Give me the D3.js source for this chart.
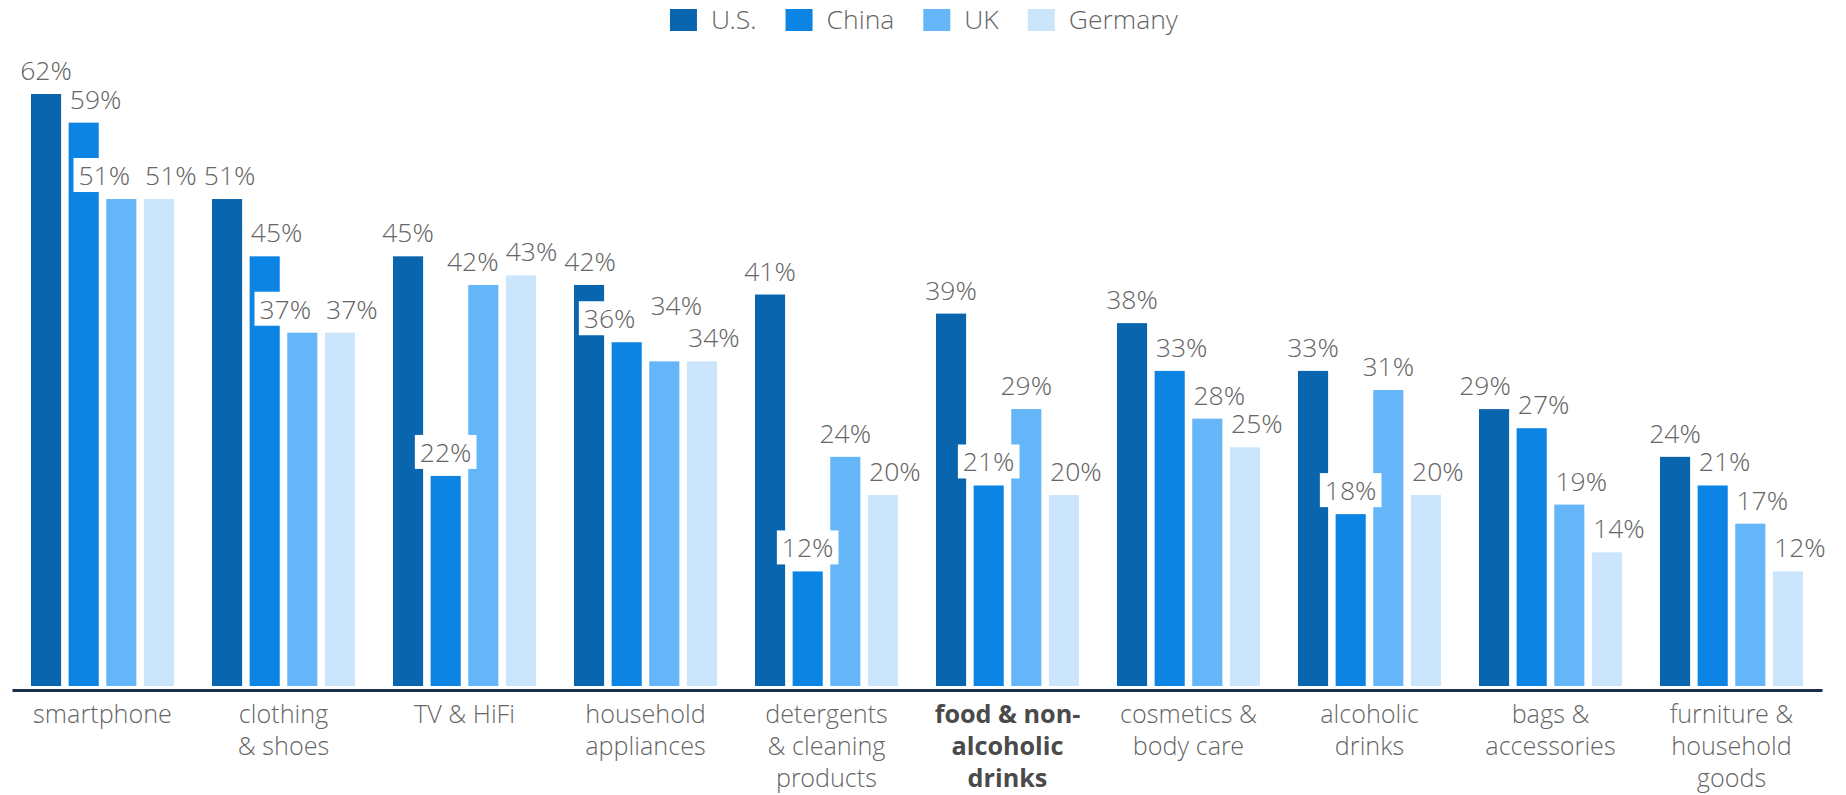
<!DOCTYPE html>
<html>
<head>
<meta charset="utf-8">
<script src="https://cdn.jsdelivr.net/npm/d3@7"></script>
<style>
  html, body { margin: 0; padding: 0; background: #fff; }
  svg { display: block; font-family: "Open Sans Light", "Open Sans", "Noto Sans", sans-serif; }
</style>
</head>
<body>
<svg id="chart" width="1846" height="795"></svg>
<script>
// Category names, already broken into the lines they are printed on
const categories = [
  ["smartphone"],
  ["clothing", "& shoes"],
  ["TV & HiFi"],
  ["household", "appliances"],
  ["detergents", "& cleaning", "products"],
  ["food & non-", "alcoholic", "drinks"],
  ["cosmetics &", "body care"],
  ["alcoholic", "drinks"],
  ["bags &", "accessories"],
  ["furniture &", "household", "goods"]
];
const highlightedCategory = 5;

const seriesNames = ["U.S.", "China", "UK", "Germany"];
const usValues      = [62, 51, 45, 42, 41, 39, 38, 33, 29, 24];
const chinaValues   = [59, 45, 22, 36, 12, 21, 33, 18, 27, 21];
const ukValues      = [51, 37, 42, 34, 24, 29, 28, 31, 19, 17];
const germanyValues = [51, 37, 43, 34, 20, 20, 25, 20, 14, 12];

const seriesColors = ["#0a65af", "#0b84e4", "#64b6f8", "#cbe6fc"];
const valueSeries = [usValues, chinaValues, ukValues, germanyValues];

const FONT = 26.5;
const CAT_FONT = 25.2;
const svg = d3.select("#chart");
const baseY = 686;

const x0 = d3.scaleBand()
  .domain(d3.range(categories.length))
  .range([12, 1822])
  .paddingInner(0.21)
  .paddingOuter(0.105);

const x1 = d3.scaleBand()
  .domain(d3.range(seriesNames.length))
  .range([0, x0.bandwidth()])
  .paddingInner(0.2);

const y = d3.scaleLinear()
  .domain([0, d3.max(usValues)])
  .range([baseY, 94]);

// ---- legend ----
const legend = svg.append("g").attr("class", "legend");
const legendItems = legend.selectAll("g").data(seriesNames).join("g");
legendItems.append("rect")
  .attr("width", 27).attr("height", 22)
  .attr("y", 9)
  .attr("fill", (d, i) => seriesColors[i]);
legendItems.append("text")
  .attr("x", 41).attr("y", 29)
  .attr("font-size", FONT).attr("font-weight", 300)
  .attr("fill", "#666")
  .text(d => d);
const ITEM_GAP = 29;
const itemW = [];
legendItems.each(function () {
  itemW.push(41 + this.querySelector("text").getComputedTextLength());
});
const legendTotal = d3.sum(itemW) + ITEM_GAP * (itemW.length - 1);
let cursor = 924 - legendTotal / 2;
legendItems.attr("transform", (d, i) => {
  const t = `translate(${cursor},0)`;
  cursor += itemW[i] + ITEM_GAP;
  return t;
});

// ---- bars ----
const bars = [];
categories.forEach((c, g) => {
  valueSeries.forEach((vals, s) => {
    bars.push({ g, s, v: vals[g] });
  });
});

svg.append("g").attr("class", "bars")
  .selectAll("rect").data(bars).join("rect")
  .attr("x", d => x0(d.g) + x1(d.s))
  .attr("y", d => y(d.v))
  .attr("width", x1.bandwidth())
  .attr("height", d => baseY - y(d.v))
  .attr("fill", d => seriesColors[d.s]);

// ---- axis ----
const axis = svg.append("g")
  .attr("transform", "translate(0,690)")
  .call(d3.axisBottom(x0).tickSize(0).tickSizeOuter(0).tickFormat(""));
axis.select(".domain").attr("stroke", "#1b3048").attr("stroke-width", 3);
axis.selectAll(".tick").remove();

const catG = svg.append("g").attr("class", "categories");
categories.forEach((lines, g) => {
  const bold = g === highlightedCategory;
  lines.forEach((ln, k) => {
    catG.append("text")
      .attr("x", x0(g) + x0.bandwidth() / 2)
      .attr("y", 723 + k * 31.8)
      .attr("text-anchor", "middle")
      .attr("font-size", CAT_FONT)
      .attr("font-family", bold ? "'Open Sans', sans-serif" : null)
      .attr("font-weight", bold ? 700 : 300)
      .attr("fill", bold ? "#4a4a4a" : "#666")
      .text(ln);
  });
});

// ---- value labels ----
const boxG = svg.append("g").attr("class", "label-boxes");
const labG = svg.append("g").attr("class", "labels");

const labels = bars.map(d => {
  const c = x0(d.g) + x1(d.s) + x1.bandwidth() / 2;
  return { ...d, c, x: c, b: y(d.v) - 14, shifted: false, reverted: false };
});

labels.forEach(l => {
  l.node = labG.append("text")
    .attr("text-anchor", "middle")
    .attr("font-size", FONT).attr("font-weight", 300)
    .attr("fill", "#666")
    .text(l.v + "%").node();
  l.hw = l.node.getComputedTextLength() / 2 + 4;
});

// Shift a label right when the bar on its left would run through it
labels.forEach(l => {
  const vals = valueSeries.map(a => a[l.g]);
  const left = l.s > 0 ? vals[l.s - 1] : null;
  const right = l.s < vals.length - 1 ? vals[l.s + 1] : null;
  if (left !== null && left >= l.v && (right === null || right <= l.v)) {
    l.x = l.c + 12;
    l.shifted = true;
  }
});

const GAP = -1;
const vOverlap = (a, b) => Math.abs(a.b - b.b) < 24;
const hOverlap = (a, b) => {
  const [l, r] = a.x <= b.x ? [a, b] : [b, a];
  return (l.x + l.hw) - (r.x - r.hw) + GAP;
};
const collides = (a, b) => vOverlap(a, b) && hOverlap(a, b) > 0;

// Push colliding labels apart
const placed = [];
labels.forEach(i => {
  for (let pass = 0; pass < 2; pass++) {
    placed.forEach(j => {
      if (!vOverlap(i, j)) return;
      const ov = hOverlap(j, i);
      if (ov <= 0) return;
      if (j.g === i.g) {
        if (j.shifted && !j.reverted) {
          const old = j.x;
          j.x = j.c - 17;
          const clash = placed.some(k => k !== j && collides(k, j)) || collides(i, j);
          if (!clash) { j.reverted = true; return; }
          j.x = old;
          j.b = i.b - 32;
        } else if (j.shifted) {
          j.b = i.b - 32;
        } else if (i.shifted) {
          j.x -= ov;
        } else {
          j.x -= ov / 2;
          i.x += ov / 2;
        }
      } else {
        i.x += ov;
      }
    });
  }
  placed.push(i);
});

// Labels that sit on another bar get a white backing
labels.forEach(l => {
  d3.select(l.node).attr("x", l.x).attr("y", l.b);
  const bx0 = l.x - l.hw - 1, bx1 = l.x + l.hw + 1;
  const by0 = l.b - 27, by1 = l.b + 7;
  const overBar = bars.some(d => {
    if (d.g === l.g && d.s === l.s) return false;
    const rx0 = x0(d.g) + x1(d.s), rx1 = rx0 + x1.bandwidth();
    return bx0 < rx1 && bx1 > rx0 && by1 > y(d.v) && by0 < baseY;
  });
  if (overBar) {
    boxG.append("rect")
      .attr("x", bx0).attr("y", by0)
      .attr("width", bx1 - bx0).attr("height", by1 - by0)
      .attr("fill", "#fff");
  }
});
</script>
</body>
</html>
